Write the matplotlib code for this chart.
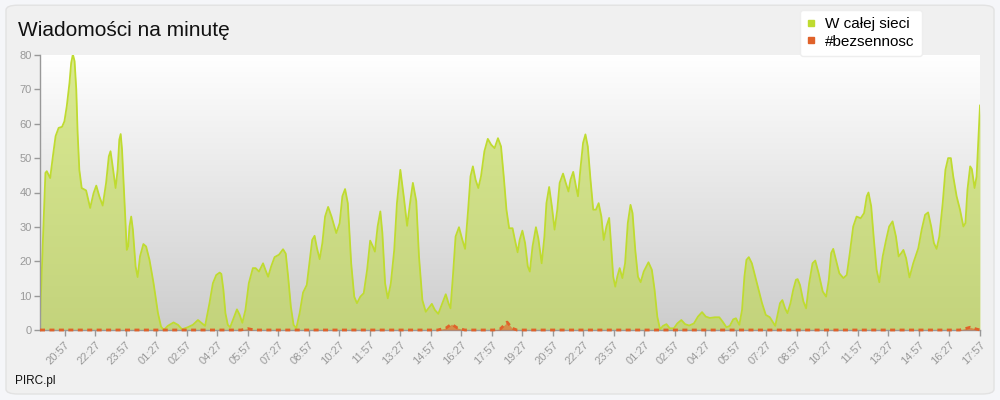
import numpy as np
import matplotlib
matplotlib.use('Agg')
import matplotlib.pyplot as plt
from matplotlib.colors import LinearSegmentedColormap
from matplotlib.patches import FancyBboxPatch
from matplotlib.lines import Line2D

plt.rcParams['font.family'] = ['Liberation Sans', 'DejaVu Sans']

# messages per minute, whole network (x = minutes after 20:57 on day 1)
net_min = [
    -73, -57, -53, -43, -35, -27, -18, -8, -1, 6, 14, 19, 24, 29, 34, 38, 43, 50,
    63, 75, 85, 93, 102, 112, 122, 130, 135, 140, 150, 156, 161, 165, 169, 176,
    183, 187, 191, 196, 201, 209, 215, 222, 232, 240, 250, 262, 275, 284, 292,
    304, 321, 334, 346, 363, 378, 393, 403, 414, 427, 437, 447, 457, 462, 468,
    474, 481, 488, 498, 508, 516, 524, 533, 543, 555, 563, 573, 585, 592, 600,
    609, 619, 632, 644, 652, 659, 667, 675, 683, 693, 703, 714, 724, 730, 737,
    744, 752, 760, 768, 777, 787, 801, 811, 819, 827, 835, 845, 854, 862, 872,
    882, 892, 901, 909, 915, 923, 931, 937, 945, 953, 962, 972, 980, 990, 1000,
    1010, 1020, 1027, 1037, 1045, 1055, 1065, 1073, 1083, 1092, 1102, 1112,
    1124, 1132, 1138, 1145, 1153, 1163, 1173, 1181, 1190, 1197, 1204, 1212,
    1220, 1228, 1238, 1248, 1258, 1268, 1278, 1287, 1295, 1303, 1311, 1321,
    1328, 1336, 1342, 1350, 1358, 1366, 1372, 1380, 1390, 1397, 1407, 1415,
    1421, 1429, 1437, 1445, 1453, 1460, 1470, 1478, 1486, 1492, 1500, 1508,
    1514, 1521, 1529, 1536, 1543, 1551, 1559, 1567, 1575, 1583, 1590, 1598,
    1606, 1610, 1618, 1624, 1630, 1637, 1645, 1653, 1661, 1669, 1675, 1683,
    1691, 1699, 1708, 1722, 1732, 1740, 1748, 1756, 1765, 1775, 1785, 1797,
    1807, 1819, 1830, 1842, 1856, 1868, 1880, 1891, 1903, 1918, 1931, 1941,
    1952, 1962, 1972, 1980, 1990, 1998, 2005, 2011, 2018, 2027, 2037, 2047,
    2057, 2068, 2080, 2090, 2096, 2104, 2110, 2117, 2125, 2132, 2141, 2149,
    2157, 2162, 2169, 2179, 2187, 2196, 2206, 2214, 2224, 2236, 2246, 2254,
    2261, 2267, 2275, 2285, 2297, 2307, 2316, 2326, 2336, 2348, 2358, 2366,
    2371, 2379, 2387, 2395, 2403, 2413, 2423, 2432, 2442, 2452, 2460, 2468,
    2474, 2482, 2492, 2503, 2518, 2528, 2538, 2547, 2556, 2564, 2572, 2580,
    2590, 2598, 2606, 2614, 2621, 2631, 2641, 2651, 2657, 2663, 2671, 2676,
    2684, 2690, 2696, 2700,
]
net_val = [
    3, 45.7, 46.2, 44.2, 50.5, 56.4, 58.8, 59.1, 60.7, 65.1, 71.9, 77.7, 80.2,
    78.2, 70, 57.3, 46.6, 41.3, 40.6, 35.5, 39.8, 42, 38.9, 36.2, 42.8, 50.5,
    52, 48.6, 41.3, 46.6, 55.4, 57, 52.5, 37.9, 23.3, 24.3, 30.1, 33, 29.2,
    18.5, 15.4, 21.4, 25, 24.3, 20.4, 13.6, 4.9, 1, 0, 1.2, 2.2, 1.5, 0.2, 0.8,
    1.5, 2.9, 2.1, 1.2, 7.8, 13.6, 16, 16.7, 16.3, 11.7, 4.9, 1.5, 0.8, 3.4, 6,
    4.4, 2.1, 5.8, 13.6, 18, 18, 17, 19.4, 17.5, 15.5, 18.5, 21.2, 21.9, 23.5,
    22.2, 15.5, 6.8, 1.5, 0.5, 4.9, 10.9, 13.1, 21.4, 26.2, 27.4, 23.8, 20.6,
    25.3, 33, 35.8, 33, 28.2, 31.1, 38.9, 41, 36.9, 19.4, 9.7, 7.8, 9.7, 10.7,
    17.5, 26, 24.3, 22.8, 30.1, 34.5, 28.2, 13.6, 9.2, 13.6, 23.3, 36.9, 46.6,
    38.9, 30.3, 37.9, 42.8, 37.5, 21.4, 8.7, 5.3, 6.3, 7.6, 5.8, 4.7, 7.3, 10.4,
    7.8, 6.3, 15.5, 27.2, 29.9, 26.2, 23.6, 35, 44.7, 47.6, 43.7, 41.3, 44.7,
    52, 55.6, 53.9, 52.9, 55.8, 53.4, 44.7, 35, 29.6, 29.6, 26.2, 22.6, 26.2,
    28.9, 25.3, 18.5, 17, 24.3, 29.9, 26.7, 19.4, 27.2, 36.9, 41.6, 36, 29.2,
    35, 42.8, 45.5, 42.8, 40.3, 43.7, 46, 41.8, 38.9, 46.6, 54.4, 56.9, 53.4,
    43.7, 35, 35, 36.9, 33, 26.2, 30.1, 32.6, 27.2, 15.5, 12.6, 15.5, 18, 15.1,
    19.4, 31.1, 36.4, 34, 23.3, 15.5, 13.9, 17, 19.7, 17.5, 11.7, 3.9, 0.2,
    1.2, 1.7, 0.5, 0.5, 1.9, 2.9, 1.7, 1.3, 1.9, 3.9, 5.2, 3.9, 3.5, 3.7, 3.7,
    2.4, 0.8, 1.2, 3.1, 3.4, 1.5, 5.8, 15.5, 20.4, 21.2, 19.4, 15.5, 11.7, 7.8,
    4.4, 3.7, 2.1, 1.2, 4.9, 7.8, 8.7, 6.3, 4.9, 7.8, 11.7, 14.6, 14.8, 13.1,
    8.3, 6.3, 13.6, 19.4, 20.2, 16.5, 11.2, 9.7, 14.6, 22.4, 23.6, 20.4, 16.5,
    15.1, 16, 22.4, 30.1, 33, 32.5, 34, 38.9, 40, 36, 26.2, 17.5, 13.9, 21.4,
    26.2, 30.1, 31.6, 27.2, 21.4, 22.4, 23.3, 20.9, 15.3, 19.4, 23.8, 29.2,
    33.5, 34.2, 30.1, 25.3, 23.6, 27.2, 36.9, 46.6, 50, 50, 44.7, 38.9, 35,
    30.1, 31.1, 40.8, 47.6, 46.8, 41.3, 44.7, 57.4, 65.3,
]

# #bezsennosc channel
tag_min = [-73, 520, 540, 560, 1100, 1125, 1141, 1158, 1180, 1265, 1285, 1305,
           1320, 1334, 2640, 2660, 2671, 2685, 2700]
tag_val = [0, 0, 0.4, 0, 0, 0.6, 1.7, 0.6, 0, 0, 0.3, 2.3, 0.5, 0, 0, 0.5, 0.8,
           0.4, 0]

tick_labels = ['20:57', '22:27', '23:57', '01:27', '02:57', '04:27', '05:57',
               '07:27', '08:57', '10:27', '11:57', '13:27', '14:57', '16:27',
               '17:57', '19:27', '20:57', '22:27', '23:57', '01:27', '02:57',
               '04:27', '05:57', '07:27', '08:57', '10:27', '11:57', '13:27',
               '14:57', '16:27', '17:57']

green_line = '#bfdb30'
green_fill = '#bcd93a'
orange = '#e0622a'
grey = '#999999'

fig = plt.figure(figsize=(10, 4), dpi=100)
fig.patch.set_facecolor('#f5f6f9')
box = FancyBboxPatch((0.006, 0.015), 0.988, 0.972, boxstyle='round,pad=0,rounding_size=0.012',
                     transform=fig.transFigure, facecolor='#f0f0f0', edgecolor='#e2e2e2',
                     linewidth=1.0, zorder=-10)
fig.patches.append(box)

ax = fig.add_axes([0.04, 0.175, 0.94, 0.6875])
ax.set_facecolor('none')

xmin, xmax = net_min[0], net_min[-1]
cmap = LinearSegmentedColormap.from_list('bg', ['#ffffff', '#cdcdcd'])
ax.imshow(np.linspace(0, 1, 256)[:, None], cmap=cmap, extent=[xmin, xmax, 0, 80],
          aspect='auto', origin='upper', zorder=0)

ax.fill_between(net_min, net_val, color=green_fill, alpha=0.55, lw=0, zorder=1)
ax.plot(net_min, net_val, color=green_line, lw=1.3, zorder=2)

ax.fill_between(tag_min, tag_val, color=orange, alpha=0.6, lw=0, zorder=3)
ax.plot(tag_min, tag_val, color=orange, lw=2.0, ls=(0, (1.8, 1.6)), zorder=4,
        clip_on=False)

ax.set_xlim(xmin, xmax)
ax.set_ylim(0, 80)

for s in ['top', 'right']:
    ax.spines[s].set_visible(False)
for s in ['left', 'bottom']:
    ax.spines[s].set_color(grey)
    ax.spines[s].set_linewidth(1.0)

ax.set_yticks(np.arange(0, 81, 10))
ax.tick_params(axis='y', colors=grey, labelsize=8, length=4, width=1, pad=2)
ticks = np.arange(len(tick_labels)) * 90
ax.set_xticks(ticks)
ax.set_xticklabels(tick_labels, rotation=45, ha='right', va='top',
                   rotation_mode='anchor')
ax.tick_params(axis='x', colors=grey, labelsize=8, length=4, width=1, pad=3)

fig.text(0.018, 0.925, 'Wiadomości na minutę', fontsize=15, color='#111111',
         ha='left', va='center')
fig.text(0.015, 0.047, 'PIRC.pl', fontsize=8.5, color='#111111',
         ha='left', va='center')

handles = [Line2D([], [], marker='s', color=green_line, ls='None', markersize=4),
           Line2D([], [], marker='s', color=orange, ls='None', markersize=4)]
leg = fig.legend(handles, ['W całej sieci', '#bezsennosc'], loc='upper left',
                 bbox_to_anchor=(0.8, 0.975), borderaxespad=0, fontsize=11,
                 frameon=True, handlelength=0.6, handletextpad=0.6,
                 labelspacing=0.25, borderpad=0.45, fancybox=True, framealpha=1)
leg.get_frame().set_facecolor('white')
leg.get_frame().set_edgecolor('#eeeeee')

fig.savefig('out.png', dpi=100, facecolor=fig.get_facecolor())
